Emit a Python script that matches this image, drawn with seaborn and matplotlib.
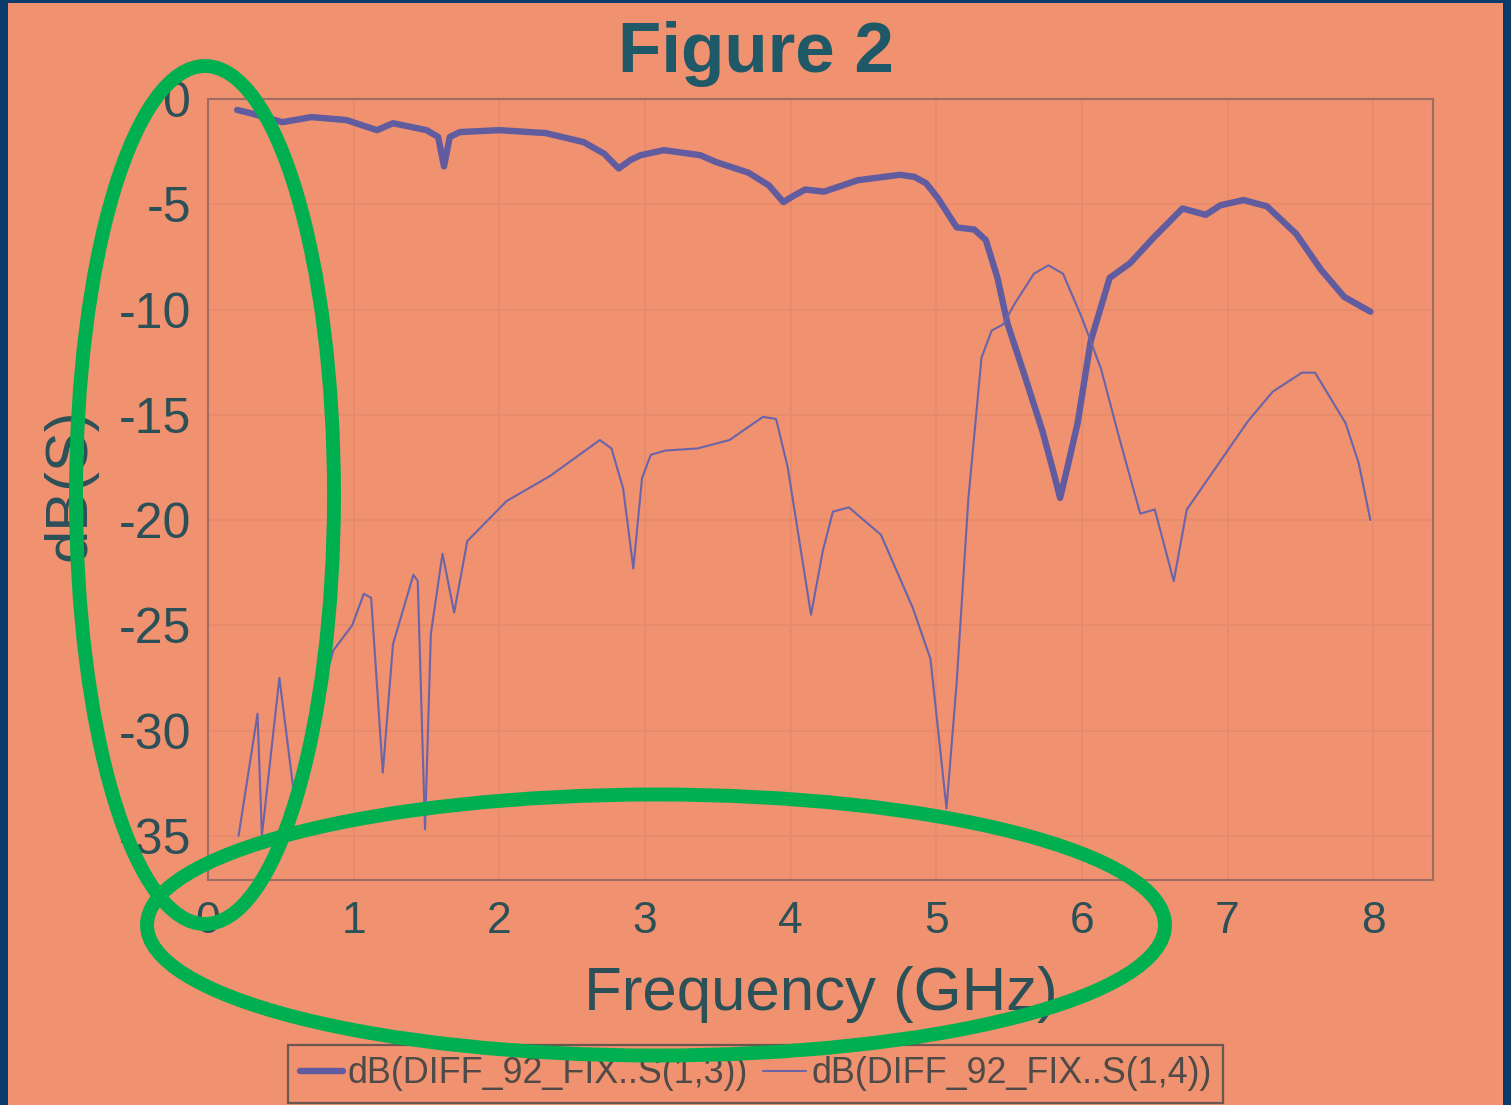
import matplotlib
matplotlib.use("Agg")
import matplotlib.pyplot as plt
from matplotlib import font_manager
from matplotlib.patches import Ellipse, Rectangle
from matplotlib.ticker import FuncFormatter
import seaborn as sns
import numpy as np
import pandas as pd

# ---------------- data ----------------
freq_s13 = [0.20, 0.29, 0.51, 0.71, 0.95, 1.16, 1.27, 1.50, 1.58, 1.62,
            1.66, 1.73, 2.00, 2.32, 2.58, 2.72, 2.82, 2.90, 2.97, 3.13,
            3.38, 3.49, 3.71, 3.85, 3.95, 4.02, 4.10, 4.23, 4.46, 4.75,
            4.85, 4.93, 5.01, 5.14, 5.26, 5.34, 5.42, 5.49, 5.60, 5.73,
            5.80, 5.85, 5.90, 5.97, 6.06, 6.19, 6.33, 6.49, 6.69, 6.85,
            6.95, 7.11, 7.27, 7.47, 7.64, 7.80, 7.98]
db_s13 = [-0.52, -0.67, -1.1, -0.86, -1.0, -1.48, -1.15, -1.48, -1.8, -3.2,
          -1.8, -1.57, -1.48, -1.62, -2.05, -2.6, -3.3, -2.9, -2.67, -2.43,
          -2.67, -3.0, -3.5, -4.1, -4.9, -4.6, -4.3, -4.4, -3.86, -3.6,
          -3.7, -4.0, -4.7, -6.1, -6.2, -6.7, -8.5, -10.7, -13.0, -15.8,
          -17.6, -18.95, -17.5, -15.4, -11.5, -8.5, -7.8, -6.6, -5.2, -5.5,
          -5.05, -4.8, -5.1, -6.4, -8.1, -9.4, -10.1]

freq_s14 = [0.21, 0.34, 0.37, 0.49, 0.59, 0.86, 0.99, 1.07, 1.12, 1.20,
            1.27, 1.41, 1.44, 1.49, 1.53, 1.61, 1.69, 1.78, 2.05, 2.35,
            2.69, 2.77, 2.85, 2.92, 2.98, 3.04, 3.14, 3.36, 3.58, 3.81,
            3.90, 3.98, 4.06, 4.14, 4.22, 4.29, 4.40, 4.62, 4.84, 4.96,
            5.07, 5.14, 5.22, 5.31, 5.38, 5.46, 5.54, 5.67, 5.77, 5.87,
            6.00, 6.13, 6.26, 6.40, 6.50, 6.63, 6.72, 6.82, 6.92, 7.14,
            7.31, 7.51, 7.60, 7.81, 7.90, 7.98]
db_s14 = [-35.0, -29.2, -35.0, -27.5, -33.0, -26.2, -25.0, -23.5, -23.7, -32.0,
          -25.9, -22.6, -22.9, -34.7, -25.4, -21.6, -24.4, -21.0, -19.1, -17.9,
          -16.2, -16.6, -18.5, -22.3, -18.0, -16.9, -16.7, -16.6, -16.2, -15.1,
          -15.2, -17.5, -21.0, -24.5, -21.5, -19.6, -19.4, -20.7, -24.2, -26.6,
          -33.7, -27.7, -19.0, -12.3, -11.0, -10.7, -9.7, -8.3, -7.9, -8.3,
          -10.4, -12.8, -16.2, -19.7, -19.5, -22.9, -19.5, -18.5, -17.5, -15.3,
          -13.9, -13.0, -13.0, -15.4, -17.3, -20.0]

series_labels = ["dB(DIFF_92_FIX..S(1,3))", "dB(DIFF_92_FIX..S(1,4))"]
x_ticks = [0, 1, 2, 3, 4, 5, 6, 7, 8]
y_ticks = [0, -5, -10, -15, -20, -25, -30, -35]
title_text = "Figure 2"
x_label = "Frequency (GHz)"
y_label = "dB(S)"

# ---------------- style ----------------
BG = "#F0916F"
BORDER = "#0B3B6C"
GRID = "#E78A6D"
SPINE = "#9C6E62"
TEXT = "#2C5058"
TITLE = "#1F5866"
LINE1 = "#615CA0"
LINE2 = "#6A64A8"
GREEN = "#00B050"

sns.set_style("white")
names = {f.name for f in font_manager.fontManager.ttflist}
base_font = "Liberation Sans" if "Liberation Sans" in names else "DejaVu Sans"
narrow = "Liberation Sans Narrow" if "Liberation Sans Narrow" in names else None
plt.rcParams["font.family"] = [base_font, "DejaVu Sans"]

W, H = 1511, 1105
fig = plt.figure(figsize=(W / 100, H / 100), dpi=100, facecolor=BORDER)
fig.patches.append(Rectangle((8 / W, 0), (1503 - 8) / W, 1 - 3 / H,
                             transform=fig.transFigure, facecolor=BG,
                             edgecolor="none", zorder=-5))

ax = fig.add_axes([208 / W, 1 - 880 / H, (1433 - 208) / W, (880 - 99) / H])
ax.set_zorder(1)
ax.set_facecolor(BG)

df13 = pd.DataFrame({"freq": freq_s13, "db": db_s13})
df14 = pd.DataFrame({"freq": freq_s14, "db": db_s14})
sns.lineplot(data=df13, x="freq", y="db", ax=ax, color=LINE1, lw=4.6,
             estimator=None, sort=False, label=series_labels[0], zorder=3)
sns.lineplot(data=df14, x="freq", y="db", ax=ax, color=LINE2, lw=1.5,
             estimator=None, sort=False, label=series_labels[1], zorder=3)

ax.set_xlim(0, 8.41)
ax.set_ylim(-37.1, 0)
ax.set_xticks(x_ticks)
ax.set_yticks(y_ticks)
ax.xaxis.set_major_formatter(FuncFormatter(lambda v, p: f"{v:g}"))
ax.yaxis.set_major_formatter(FuncFormatter(lambda v, p: f"{v:g}".replace("\u2212", "-")))
ax.grid(True, color=GRID, lw=1.2, zorder=0)
ax.set_axisbelow(True)
for s in ax.spines.values():
    s.set_visible(True)
    s.set_color(SPINE)
    s.set_linewidth(1.5)
ax.tick_params(axis="x", direction="in", length=19, width=1.5, color=SPINE,
               labelsize=32, labelcolor=TEXT, pad=15)
ax.tick_params(axis="y", direction="in", length=14, width=1.5, color=SPINE,
               labelsize=36, labelcolor=TEXT, pad=12)

ax.set_xlabel(x_label, fontsize=44.5, color=TEXT)
ax.xaxis.set_label_coords(0.5, -0.11)
ax.set_ylabel(y_label, fontsize=43, color=TEXT)
ax.yaxis.set_label_coords(-0.09, 0.506)

fig.text(756 / W, 1 - 72 / H, title_text, ha="center", va="baseline",
         fontsize=51, fontweight="bold", color=TITLE)

handles, labels = ax.get_legend_handles_labels()
ax.get_legend().remove()
leg_font = {"family": [narrow, "DejaVu Sans"], "size": 29} if narrow else {"family": [base_font], "size": 25.8}
leg = fig.legend(handles, labels, loc="lower center", bbox_to_anchor=(0.5, 0.002),
                 ncol=2, prop=leg_font, frameon=True, fancybox=False,
                 handlelength=1.2, handletextpad=0.15, columnspacing=0.4,
                 borderpad=0.32, borderaxespad=0.0)
leg.set_zorder(5)
leg.get_frame().set_facecolor(BG)
leg.get_frame().set_edgecolor("#6A5850")
leg.get_frame().set_linewidth(1.6)
leg.get_frame().set_alpha(1)
for t in leg.get_texts():
    t.set_color("#4E4A48")

# green highlight ellipses (annotation overlay)
fig.patches.append(Ellipse((205 / W, 1 - 495 / H), 258 / W, 858 / H,
                           transform=fig.transFigure, fill=False,
                           edgecolor=GREEN, lw=10, zorder=10))
fig.patches.append(Ellipse((656 / W, 1 - 925 / H), 1018 / W, 261 / H,
                           transform=fig.transFigure, fill=False,
                           edgecolor=GREEN, lw=10, zorder=10))

fig.savefig("out.png", dpi=100, facecolor=fig.get_facecolor())
